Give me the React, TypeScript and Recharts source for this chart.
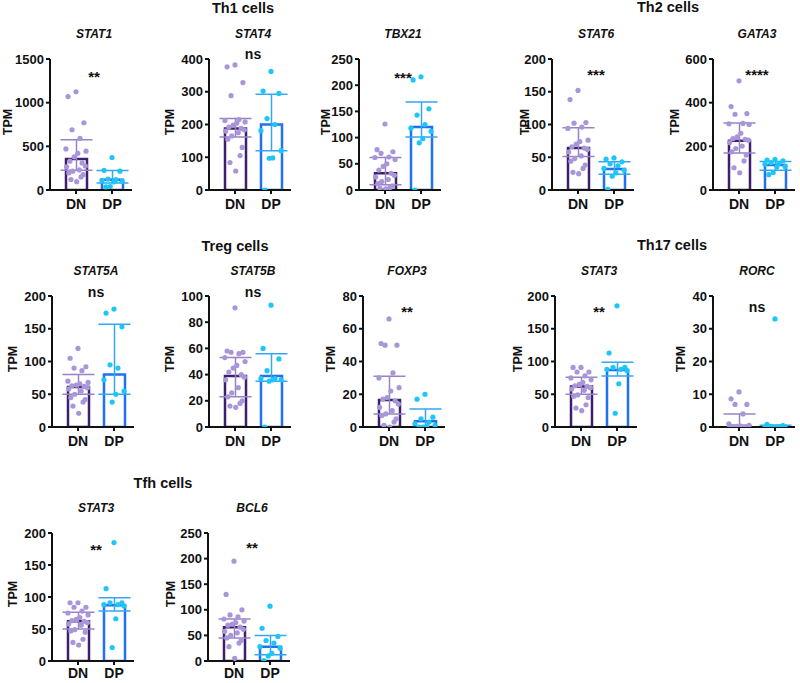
import { Bar, Cell, ComposedChart, ErrorBar, Scatter, XAxis, YAxis } from "recharts";

const FONT = '"Liberation Sans", Arial, sans-serif';

const DN_BAR = "#3d1f6e";
const DN_PT = "#a996d9";
const DN_ERR = "#9783c6";
const DP_BAR = "#1f72f2";
const DP_PT = "#1ec6f7";
const DP_ERR = "#35a6f3";

const GROUPS = ["DN", "DP"];

// TPM values (DN = 20 samples, DP = 9-10 samples)
const stat1DN = [1125, 1070, 770, 690, 590, 470, 445, 420, 380, 330, 310, 275, 265, 230, 215, 195, 175, 150, 120, 95];
const stat1DP = [372, 225, 215, 125, 118, 110, 100, 92, 40, 35];
const stat1Bar = [355, 118];
const stat1Low = [225, 80];
const stat1High = [575, 222];
const stat1Ticks = [0, 500, 1000, 1500];

const stat4DN = [382, 376, 328, 288, 215, 212, 208, 204, 198, 192, 188, 184, 180, 175, 165, 155, 130, 105, 84, 58];
const stat4DP = [362, 302, 295, 218, 200, 181, 120, 98, 97, 0];
const stat4Bar = [188, 200];
const stat4Low = [162, 120];
const stat4High = [218, 292];
const stat4Ticks = [0, 100, 200, 300, 400];

const tbx21DN = [126, 77, 73, 70, 63, 62, 58, 50, 45, 38, 32, 28, 25, 20, 16, 12, 8, 5, 3, 2];
const tbx21DP = [216, 210, 155, 143, 125, 118, 112, 98, 90, 0];
const tbx21Bar = [32, 120];
const tbx21Low = [10, 101];
const tbx21High = [62, 168];
const tbx21Ticks = [0, 50, 100, 150, 200, 250];

const stat6DN = [152, 138, 103, 102, 96, 94, 76, 74, 70, 66, 64, 62, 58, 52, 48, 44, 38, 33, 27, 25];
const stat6DP = [49, 47, 43, 40, 37, 33, 30, 26, 21, 1];
const stat6Bar = [64, 32];
const stat6Low = [51, 24];
const stat6High = [95, 43];
const stat6Ticks = [0, 50, 100, 150, 200];

const gata3DN = [500, 382, 350, 347, 305, 303, 300, 260, 243, 235, 232, 228, 217, 201, 190, 175, 160, 133, 102, 79];
const gata3DP = [140, 137, 133, 125, 122, 118, 108, 105, 80, 70];
const gata3Bar = [226, 115];
const gata3Low = [170, 90];
const gata3High = [307, 130];
const gata3Ticks = [0, 200, 400, 600];

const stat5aDN = [120, 105, 92, 90, 86, 70, 68, 66, 64, 63, 62, 60, 58, 55, 50, 45, 42, 38, 32, 21];
const stat5aDP = [180, 174, 153, 95, 90, 72, 55, 50, 38];
const stat5aBar = [61, 80];
const stat5aLow = [50, 50];
const stat5aHigh = [80, 157];
const stat5aTicks = [0, 50, 100, 150, 200];

const stat5bDN = [91, 58, 57, 57, 56, 53, 50, 47, 45, 42, 40, 38, 36, 30, 26, 23, 20, 18, 16, 15];
const stat5bDP = [93, 60, 52, 43, 37, 37, 36, 36, 35, 0];
const stat5bBar = [39, 39];
const stat5bLow = [23, 35];
const stat5bHigh = [53, 56];
const stat5bTicks = [0, 20, 40, 60, 80, 100];

const foxp3DN = [66, 51, 50, 50, 33, 30, 24, 22, 18, 17, 16, 14, 12, 10, 8, 7, 5, 3, 1, 0];
const foxp3DP = [20, 17, 6, 5, 3, 2, 1, 0.5, 0, 0];
const foxp3Bar = [16.5, 3.5];
const foxp3Low = [8, 0];
const foxp3High = [31, 11];
const foxp3Ticks = [0, 20, 40, 60, 80];

const stat3DN = [91, 91, 84, 84, 78, 75, 72, 68, 65, 63, 62, 60, 58, 56, 49, 47, 45, 34, 29, 25];
const stat3DP = [185, 113, 91, 91, 88, 88, 86, 66, 21];
const stat3Bar = [62, 87];
const stat3Low = [50, 78];
const stat3High = [76, 99];
const stat3Ticks = [0, 50, 100, 150, 200];

const rorcDN = [10.7, 8.6, 6.9, 6.9, 4, 1, 0.5, 0.3, 0.2, 0.1, 0, 0, 0, 0, 0, 0, 0, 0, 0, 0];
const rorcDP = [33, 0.8, 0.4, 0.2, 0.1, 0, 0, 0, 0, 0];
const rorcBar = [0.3, 0.3];
const rorcLow = [0, 0];
const rorcHigh = [4, 0.5];
const rorcTicks = [0, 10, 20, 30, 40];

const bcl6DN = [195, 130, 100, 90, 86, 82, 78, 75, 72, 70, 66, 62, 58, 55, 50, 45, 40, 35, 28, 5];
const bcl6DP = [107, 64, 48, 40, 35, 28, 25, 15, 10, 1];
const bcl6Bar = [66, 28];
const bcl6Low = [45, 12];
const bcl6High = [82, 50];
const bcl6Ticks = [0, 50, 100, 150, 200, 250];

// horizontal scatter of the dots inside each bar
const JITTER = [0, -0.22, 0.22, -0.11, 0.11, -0.28, 0.28, 0.05, -0.05, -0.17, 0.17, 0.26, -0.26, 0.09, -0.09, -0.2, 0.2, 0.14, -0.14, 0.02];

const panels = [
  { gene: "STAT1", dn: stat1DN, dp: stat1DP, bar: stat1Bar, low: stat1Low, high: stat1High, ticks: stat1Ticks, sig: "**" },
  { gene: "STAT4", dn: stat4DN, dp: stat4DP, bar: stat4Bar, low: stat4Low, high: stat4High, ticks: stat4Ticks, sig: "ns" },
  { gene: "TBX21", dn: tbx21DN, dp: tbx21DP, bar: tbx21Bar, low: tbx21Low, high: tbx21High, ticks: tbx21Ticks, sig: "***" },
  { gene: "STAT6", dn: stat6DN, dp: stat6DP, bar: stat6Bar, low: stat6Low, high: stat6High, ticks: stat6Ticks, sig: "***" },
  { gene: "GATA3", dn: gata3DN, dp: gata3DP, bar: gata3Bar, low: gata3Low, high: gata3High, ticks: gata3Ticks, sig: "****" },
  { gene: "STAT5A", dn: stat5aDN, dp: stat5aDP, bar: stat5aBar, low: stat5aLow, high: stat5aHigh, ticks: stat5aTicks, sig: "ns" },
  { gene: "STAT5B", dn: stat5bDN, dp: stat5bDP, bar: stat5bBar, low: stat5bLow, high: stat5bHigh, ticks: stat5bTicks, sig: "ns" },
  { gene: "FOXP3", dn: foxp3DN, dp: foxp3DP, bar: foxp3Bar, low: foxp3Low, high: foxp3High, ticks: foxp3Ticks, sig: "**" },
  { gene: "STAT3", dn: stat3DN, dp: stat3DP, bar: stat3Bar, low: stat3Low, high: stat3High, ticks: stat3Ticks, sig: "**" },
  { gene: "RORC", dn: rorcDN, dp: rorcDP, bar: rorcBar, low: rorcLow, high: rorcHigh, ticks: rorcTicks, sig: "ns" },
  { gene: "STAT3", dn: stat3DN, dp: stat3DP, bar: stat3Bar, low: stat3Low, high: stat3High, ticks: stat3Ticks, sig: "**" },
  { gene: "BCL6", dn: bcl6DN, dp: bcl6DP, bar: bcl6Bar, low: bcl6Low, high: bcl6High, ticks: bcl6Ticks, sig: "**" },
];

// pixel placement: y-axis x, plot top, plot height, TPM offset, significance y, x-tick gap
const layout = [
  { x: 50, top: 59, h: 131, tpm: 42, sigY: 73, gap: 5 },
  { x: 209, top: 59, h: 131, tpm: 39, sigY: 52, gap: 5 },
  { x: 359, top: 59, h: 131, tpm: 33, sigY: 74, gap: 5 },
  { x: 552, top: 59, h: 131, tpm: 27, sigY: 71, gap: 5 },
  { x: 713, top: 59, h: 131, tpm: 38, sigY: 71, gap: 5 },
  { x: 52, top: 296, h: 131, tpm: 39, sigY: 290, gap: 5 },
  { x: 209, top: 296, h: 131, tpm: 39, sigY: 290, gap: 5 },
  { x: 363, top: 296, h: 131, tpm: 32, sigY: 308, gap: 5 },
  { x: 555, top: 296, h: 131, tpm: 37, sigY: 308, gap: 5 },
  { x: 713, top: 296, h: 131, tpm: 32, sigY: 305, gap: 5 },
  { x: 52, top: 533, h: 128, tpm: 39, sigY: 546, gap: 3 },
  { x: 208, top: 533, h: 128, tpm: 37, sigY: 544, gap: 3 },
];

const groups = [
  { text: "Th1 cells", x: 243, y: 7 },
  { text: "Th2 cells", x: 668, y: 6 },
  { text: "Treg cells", x: 235, y: 245 },
  { text: "Th17 cells", x: 672, y: 244 },
  { text: "Tfh cells", x: 163, y: 482 },
];

const Y_AXIS_W = 45;
const PLOT_W = 82;
const M_TOP = 10;
const X_AXIS_H = 22;

const label: React.CSSProperties = {
  position: "absolute",
  transform: "translate(-50%, -50%)",
  fontFamily: FONT,
  fontWeight: 700,
  color: "#111",
  lineHeight: 1,
  whiteSpace: "nowrap",
};

function dot(color: string) {
  return (props: any) => <circle cx={props.cx} cy={props.cy} r={2.6} fill={color} />;
}

function Panel({ p, l }: { p: (typeof panels)[number]; l: (typeof layout)[number] }) {
  const barData = [
    { name: GROUPS[0], y: p.bar[0], errDN: [p.bar[0] - p.low[0], p.high[0] - p.bar[0]] },
    { name: GROUPS[1], y: p.bar[1], errDP: [p.bar[1] - p.low[1], p.high[1] - p.bar[1]] },
  ];
  const dnPts = p.dn.map((v, i) => ({ x: JITTER[i % JITTER.length], y: v }));
  const dpPts = p.dp.map((v, i) => ({ x: 1 + JITTER[i % JITTER.length], y: v }));
  const max = p.ticks[p.ticks.length - 1];
  const axisStyle = { stroke: "#111", strokeWidth: 2 };
  const center = l.x + 44;

  return (
    <>
      <div style={{ position: "absolute", left: l.x - Y_AXIS_W, top: l.top - M_TOP }}>
        <ComposedChart
          width={Y_AXIS_W + PLOT_W + 6}
          height={M_TOP + l.h + X_AXIS_H}
          data={barData}
          margin={{ top: M_TOP, right: 6, bottom: 0, left: 0 }}
        >
          <XAxis
            xAxisId="cat"
            type="category"
            dataKey="name"
            padding={{ left: 8, right: 2 }}
            height={X_AXIS_H}
            axisLine={axisStyle}
            tickLine={axisStyle}
            tickSize={4}
            tickMargin={l.gap}
            interval={0}
            tick={{ fill: "#111", fontSize: 14, fontWeight: 700, fontFamily: FONT }}
          />
          <XAxis
            xAxisId="num"
            type="number"
            dataKey="x"
            domain={[-0.7222, 1.5556]}
            allowDataOverflow
            hide
          />
          <YAxis
            type="number"
            dataKey="y"
            domain={[0, max]}
            ticks={p.ticks}
            allowDataOverflow
            width={Y_AXIS_W}
            axisLine={axisStyle}
            tickLine={axisStyle}
            tickSize={4}
            tickMargin={2}
            tick={{ fill: "#111", fontSize: 13, fontWeight: 700, fontFamily: FONT }}
          />
          <Bar xAxisId="cat" dataKey="y" barSize={21} fill="#fff" strokeWidth={2.5} isAnimationActive={false}>
            <Cell stroke={DN_BAR} />
            <Cell stroke={DP_BAR} />
            <ErrorBar dataKey="errDN" width={16} stroke={DN_ERR} strokeWidth={1.5} />
            <ErrorBar dataKey="errDP" width={16} stroke={DP_ERR} strokeWidth={1.5} />
          </Bar>
          <Scatter xAxisId="num" data={dnPts} fill={DN_PT} shape={dot(DN_PT)} isAnimationActive={false} />
          <Scatter xAxisId="num" data={dpPts} fill={DP_PT} shape={dot(DP_PT)} isAnimationActive={false} />
        </ComposedChart>
      </div>
      <div style={{ ...label, left: center, top: l.top - 25, fontSize: 12, fontStyle: "italic" }}>{p.gene}</div>
      <div
        style={{
          ...label,
          left: l.x - l.tpm,
          top: l.top + l.h / 2 - 3,
          fontSize: 12.5,
          transform: "translate(-50%, -50%) rotate(-90deg)",
        }}
      >
        TPM
      </div>
      <div
        style={{
          ...label,
          left: center,
          top: p.sig === "ns" ? l.sigY + 2 : l.sigY + 3,
          fontSize: p.sig === "ns" ? 14 : 15,
        }}
      >
        {p.sig}
      </div>
    </>
  );
}

export default function App() {
  return (
    <div
      style={{
        position: "absolute",
        left: 0,
        top: 0,
        width: 800,
        height: 683,
        background: "#fff",
        overflow: "hidden",
      }}
    >
      {groups.map((g) => (
        <div key={g.text} style={{ ...label, left: g.x, top: g.y + 1, fontSize: 14.5 }}>
          {g.text}
        </div>
      ))}
      {panels.map((p, i) => (
        <Panel key={i} p={p} l={layout[i]} />
      ))}
    </div>
  );
}
